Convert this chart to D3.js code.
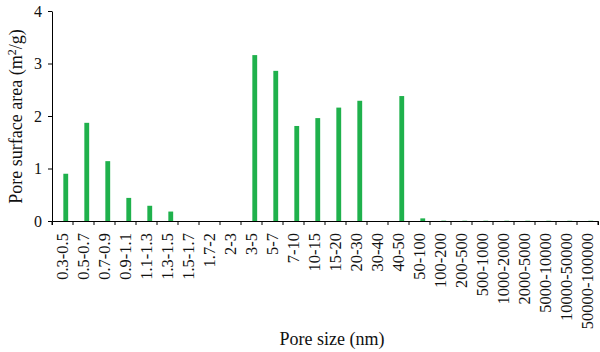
<!DOCTYPE html>
<html>
<head>
<meta charset="utf-8">
<script src="https://cdn.jsdelivr.net/npm/d3@7"></script>
<style>
  body { margin: 0; background: #fff; }
  svg text { font-family: "Liberation Serif", "Times New Roman", serif; fill: #111; }
</style>
</head>
<body>
<div id="chart-container"></div>
<script>
// pore size classes and the surface area
const poreSizes = ["0.3-0.5", "0.5-0.7", "0.7-0.9", "0.9-1.1", "1.1-1.3", "1.3-1.5", "1.5-1.7", "1.7-2",
    "2-3", "3-5", "5-7", "7-10", "10-15", "15-20", "20-30", "30-40", "40-50", "50-100",
    "100-200", "200-500", "500-1000", "1000-2000", "2000-5000", "5000-10000", "10000-50000", "50000-100000"];
const surfaceArea = [0.90, 1.87, 1.14, 0.44, 0.29, 0.18, 0, 0,
    0, 3.16, 2.86, 1.81, 1.96, 2.16, 2.29, 0, 2.38, 0.05,
    0.006, 0.005, 0.005, 0.005, 0.005, 0.005, 0.005, 0.005];
const yTicks = [0, 1, 2, 3, 4];

const svgWidth = 600;
const svgHeight = 352;
const margin = { top: 11, right: 2, bottom: 131, left: 52 };
const width = svgWidth - margin.left - margin.right;
const height = svgHeight - margin.top - margin.bottom;

const svg = d3.select("#chart-container")
    .append("svg")
    .attr("width", svgWidth)
    .attr("height", svgHeight)
    .append("g")
    .attr("transform", `translate(${margin.left},${margin.top})`);

const data = poreSizes.map((p, i) => ({ size: p, area: surfaceArea[i] }));

const x = d3.scaleBand()
    .domain(poreSizes)
    .range([0, width]);

const y = d3.scaleLinear()
    .domain([0, 4])
    .range([height, 0]);

// bars sit a bit right of the band centre, like the original
svg.selectAll(".bar")
    .data(data)
    .enter()
    .append("rect")
    .attr("class", "bar")
    .attr("x", d => x(d.size) + x.bandwidth() * 0.54)
    .attr("width", x.bandwidth() * 0.23)
    .attr("y", d => y(d.area))
    .attr("height", d => height - y(d.area))
    .attr("fill", "#1fb14c");

// axes
const xAxis = svg.append("g")
    .attr("transform", `translate(0, ${height})`)
    .call(d3.axisBottom(x).tickSize(4).tickSizeOuter(4));
// ticks between categories, not at the centres
xAxis.selectAll(".tick line")
    .attr("x1", -x.bandwidth() / 2)
    .attr("x2", -x.bandwidth() / 2);
xAxis.append("line")
    .attr("x1", width).attr("x2", width)
    .attr("y1", 0).attr("y2", 4)
    .attr("stroke", "#000");
xAxis.selectAll(".tick text")
    .attr("transform", "rotate(-90)")
    .attr("text-anchor", "end")
    .attr("x", -12)
    .attr("y", 0)
    .attr("dy", "0.35em")
    .attr("font-family", "Liberation Serif")
    .attr("font-size", 16.5);

const yAxis = svg.append("g")
    .call(d3.axisLeft(y).tickValues(yTicks).tickFormat(d3.format("d")).tickSize(4).tickSizeOuter(0));
yAxis.selectAll(".tick text")
    .attr("x", -10)
    .attr("font-family", "Liberation Serif")
    .attr("font-size", 16);

svg.selectAll(".domain, .tick line").attr("stroke", "#000");

// axis titles
svg.append("text")
    .attr("transform", `translate(${22 - margin.left}, ${116.5 - margin.top}) rotate(-90)`)
    .attr("text-anchor", "middle")
    .attr("font-family", "Liberation Serif")
    .attr("font-size", 18)
    .html('Pore surface area (m<tspan dy="-6" font-size="12">2</tspan><tspan dy="6">/g)</tspan>');

svg.append("text")
    .attr("x", 332 - margin.left)
    .attr("y", 345 - margin.top)
    .attr("text-anchor", "middle")
    .attr("font-family", "Liberation Serif")
    .attr("font-size", 18)
    .text("Pore size (nm)");
</script>
</body>
</html>
